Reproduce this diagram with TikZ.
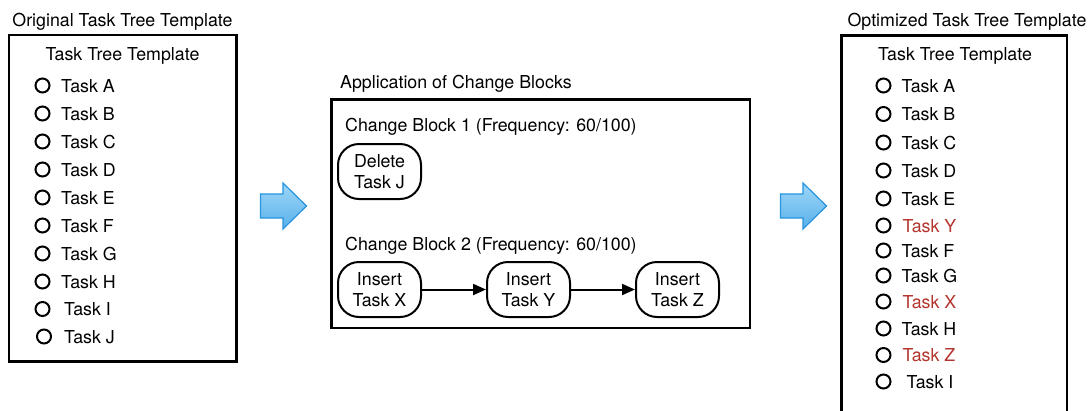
\documentclass[tikz,border=0pt]{standalone}
\usepackage{fontspec}
\setmainfont{TeX Gyre Heros}
\usetikzlibrary{arrows.meta}
\definecolor{taskred}{RGB}{180,52,46}
\definecolor{arrowtop}{RGB}{158,215,248}
\definecolor{arrowbot}{RGB}{88,176,234}
\definecolor{arrowedge}{RGB}{38,148,222}
\begin{document}
\begin{tikzpicture}[x=1pt,y=-1pt,
  font=\fontsize{17.8}{20.5}\selectfont,
  frame/.style={draw,line width=2.2pt},
  label/.style={anchor=base west,inner sep=0pt},
  ctitle/.style={anchor=base,inner sep=0pt},
  bullet/.style={circle,draw,line width=2pt,minimum size=14pt,inner sep=0pt},
  action/.style={draw,line width=2pt,rounded corners=21pt,minimum width=83pt,
    minimum height=55pt,align=center,inner sep=0pt},
  flow/.style={line width=2pt,-{Triangle[length=13pt,width=11pt]}},
  bigarrow/.style={draw=arrowedge,line width=1.2pt,top color=arrowtop,bottom color=arrowbot}
]
\useasboundingbox (0,0) rectangle (1091,410);

% --- original template ---
\node[ctitle] (origtitle) at (122.5,26) {Original Task Tree Template};
\draw[frame] (9,35) rectangle (236.5,361.5);
\node[ctitle] (orighead) at (122.5,60) {Task Tree Template};
\foreach \t/\y/\cx/\tx [count=\i] in {A/92/42.5/61,B/120/42.5/61,C/148/42.5/61,D/176/42.5/61,
    E/204/42.5/61,F/232/42.5/61,G/260/42.5/61,H/288/42.5/61,I/315.5/42.5/64,J/343/44/64}{
  \node[bullet] (oc\i) at (\cx,\y-6.5) {};
  \node[label] (ot\i) at (\tx,\y) {Task \t};
}

% --- transition arrows ---
\foreach \dx in {0,520}{
  \begin{scope}[xshift=\dx pt]
    \path[bigarrow] (260.5,194) -- (283,194) -- (283,183) -- (306.5,206)
      -- (283,229) -- (283,218) -- (260.5,218) -- cycle;
  \end{scope}
}

% --- change blocks ---
\node[label] (apptitle) at (340,88) {Application of Change Blocks};
\draw[frame] (331.5,99.5) rectangle (750,328);
\node[label] (cb1) at (345,131.5) {Change Block 1 (Frequency: 60/100)};
\node[action] (del) at (379.5,171.5) {Delete\\Task J};
\node[label] (cb2) at (345,250) {Change Block 2 (Frequency: 60/100)};
\node[action] (insx) at (379.5,289.5) {Insert\\Task X};
\node[action] (insy) at (528.5,289.5) {Insert\\Task Y};
\node[action] (insz) at (677.5,289.5) {Insert\\Task Z};
\draw[flow] (insx) -- (insy);
\draw[flow] (insy) -- (insz);

% --- optimized template ---
\node[ctitle] (opttitle) at (967,26) {Optimized Task Tree Template};
\draw[frame] (841.5,415) -- (841.5,35.5) -- (1067,35.5) -- (1067,415);
\node[ctitle] (opthead) at (955,60) {Task Tree Template};
\foreach \t/\y/\tx/\c [count=\i] in {A/92/901.5/black,B/120.5/901.5/black,C/149/901.5/black,
    D/177/901.5/black,E/205/901.5/black,Y/232/902.5/taskred,F/257/901.5/black,
    G/282/901.5/black,X/308/902.5/taskred,H/335/901.5/black,Z/361.5/902.5/taskred,
    I/388/906.5/black}{
  \node[bullet] (nc\i) at (883.5,\y-6.5) {};
  \node[label,text=\c] (nt\i) at (\tx,\y) {Task \t};
}
\end{tikzpicture}
\end{document}
